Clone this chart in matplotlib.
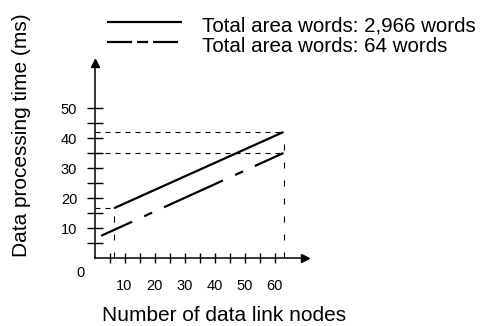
import matplotlib
matplotlib.use("Agg")
import matplotlib.pyplot as plt

plt.rcParams['font.family'] = ['Liberation Sans', 'DejaVu Sans']

# ---- data ----
series_labels = ["Total area words: 2,966 words", "Total area words: 64 words"]
nodes_2966 = [6.5, 63]
time_2966 = [16.6, 42]
nodes_64 = [2.2, 63]
time_64 = [7.4, 35]
x_major = [10, 20, 30, 40, 50, 60]
x_minor = [5, 15, 25, 35, 45, 55]
y_major = [10, 20, 30, 40, 50]
y_minor = [5, 15, 25, 35, 45]
x_label = "Number of data link nodes"
y_label = "Data processing time (ms)"

W, H = 486, 326
fig = plt.figure(figsize=(W / 100, H / 100), dpi=100)

# main axes: origin at px (94.5, 258), 3 px per unit
ox, oy = 94.5, 258
ax = fig.add_axes([ox / W, (H - oy) / H, 70 * 3 / W, 65 * 3 / H])
ax.set_xlim(0, 70)
ax.set_ylim(0, 65)
for s in ['top', 'right']:
    ax.spines[s].set_visible(False)
for s in ['left', 'bottom']:
    ax.spines[s].set_linewidth(1.1)
ax.patch.set_alpha(0)

ax.set_xticks(x_major)
ax.set_xticks(x_minor, minor=True)
ax.set_yticks(y_major)
ax.set_yticks(y_minor, minor=True)
ax.tick_params(axis='x', which='both', direction='inout', length=6.7, width=1.0,
               pad=11.8, labelsize=10.5)
ax.tick_params(axis='y', which='both', direction='inout', length=11, width=1.0,
               pad=7, labelsize=10.5)

# arrows at axis ends
ax.plot([70], [0], marker='>', color='black', markersize=6, clip_on=False)
ax.plot([0], [65], marker='^', color='black', markersize=6, clip_on=False)

# "0" label
ax.text(-4.7, -5.1, "0", ha='center', va='center', fontsize=10.5, clip_on=False)

# reference dashed lines
hdash = dict(color='black', lw=0.8, linestyle=(0, (4.5, 4.5)), clip_on=False)
vdash = dict(color='black', lw=0.8, linestyle=(0, (5.4, 10.8)), clip_on=False)
ax.plot([0, nodes_2966[1]], [time_2966[1], time_2966[1]], **hdash)
ax.plot([0, nodes_64[1]], [time_64[1], time_64[1]], **hdash)
ax.plot([0, nodes_2966[0]], [time_2966[0], time_2966[0]], **hdash)
ax.plot([nodes_2966[0], nodes_2966[0]], [0, time_2966[0]], **vdash)
ax.plot([nodes_2966[1], nodes_2966[1]], [0, time_2966[1]], **vdash)

# series
ax.plot(nodes_2966, time_2966, color='black', lw=1.6, solid_capstyle='butt')
ax.plot(nodes_64, time_64, color='black', lw=1.6,
        linestyle=(13.8, (29.1, 6.0, 3.9, 5.9)))

# overlay in pixel coordinates for legend & labels
ov = fig.add_axes([0, 0, 1, 1])
ov.set_xlim(0, W)
ov.set_ylim(H, 0)
ov.axis('off')
ov.patch.set_alpha(0)

ov.plot([107, 182], [21.7, 21.7], color='black', lw=1.6, solid_capstyle='butt')
ov.plot([107, 178], [42, 42], color='black', lw=1.6,
        linestyle=(0, (11.25, 2.25, 4.95, 2.25)))
ov.text(201.5, 32, series_labels[0], ha='left', va='baseline', fontsize=14.8)
ov.text(201.5, 52.5, series_labels[1], ha='left', va='baseline', fontsize=14.8)

ov.text(224, 321, x_label, ha='center', va='baseline', fontsize=15)
ov.text(21.5, 135, y_label, ha='center', va='center', rotation=90, fontsize=15)

fig.savefig("out.png", dpi=100)
